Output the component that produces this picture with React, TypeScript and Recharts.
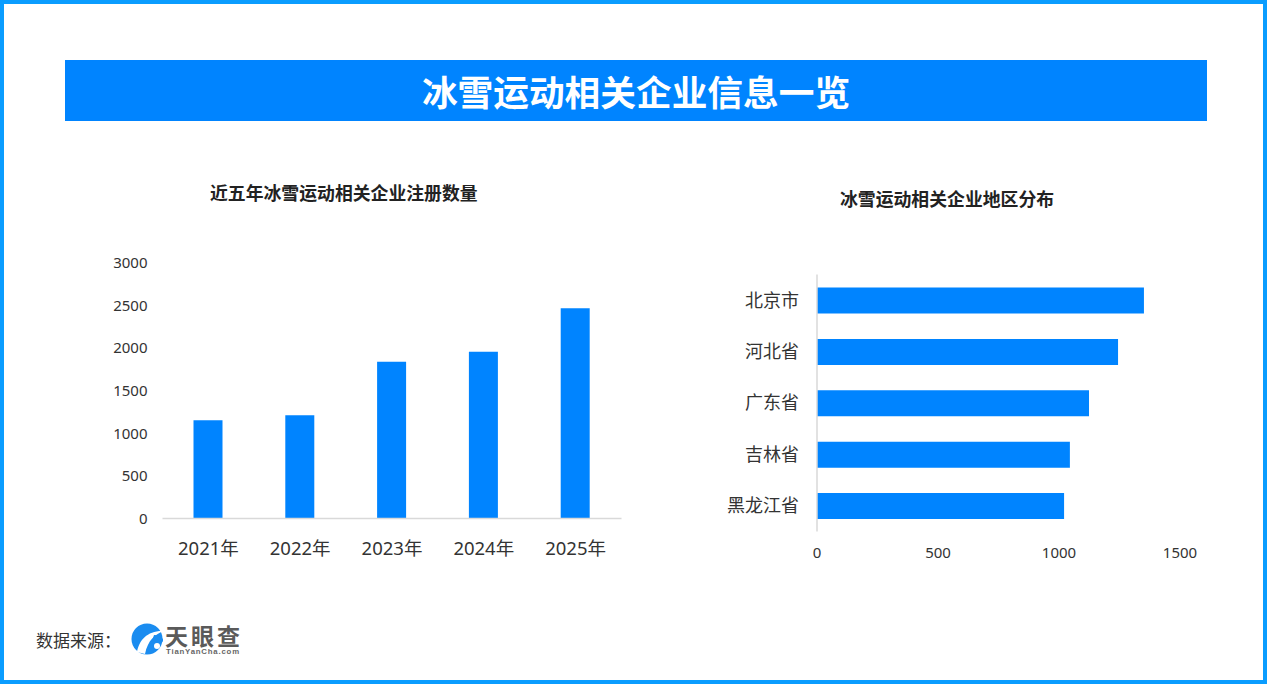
import React from "react";
import { BarChart, Bar, XAxis, YAxis } from "recharts";

const FONT = '"Noto Sans", "Noto Sans CJK SC", sans-serif';
const CJK = '"Noto Sans CJK SC", "Noto Sans", sans-serif';
const BLUE = "#0084ff";

const years = ["2021年", "2022年", "2023年", "2024年", "2025年"];
const yearCounts = [1155, 1212, 1840, 1958, 2470];
const regions = ["北京市", "河北省", "广东省", "吉林省", "黑龙江省"];
const regionCounts = [1351, 1244, 1124, 1045, 1021];
const yTicks = [0, 500, 1000, 1500, 2000, 2500, 3000];
const xTicks = [0, 500, 1000, 1500];

const yearData = years.map((year, i) => ({ year, count: yearCounts[i] }));
const regionData = regions.map((region, i) => ({ region, count: regionCounts[i] }));

const abs = (left: number, top: number, extra: React.CSSProperties = {}): React.CSSProperties => ({
  position: "absolute",
  left,
  top,
  fontFamily: CJK,
  whiteSpace: "nowrap",
  ...extra,
});

function Logo() {
  return (
    <>
      <svg style={{ position: "absolute", left: 130, top: 621 }} width={36} height={36}>
        <circle cx={17} cy={18} r={15.5} fill="#1a8cf0" />
        <path d="M7 31 C9 19 18 9 34 10 C25 13 18 19 15 33 Z" fill="#fff" />
        <path d="M24 14 C28 14 31 16 33 18 L33 21 C29 18 26 18 22 20 Z" fill="#1a8cf0" />
        <circle cx={27} cy={25} r={3} fill="#fff" />
      </svg>
      <div
        style={{
          ...abs(165, 622),
          fontSize: 23,
          fontWeight: 700,
          color: "#5a5a5a",
          lineHeight: "26px",
          letterSpacing: 3,
        }}
      >
        天眼查
      </div>
      <div
        style={{
          position: "absolute",
          left: 166,
          top: 648,
          fontFamily: '"Liberation Sans", sans-serif',
          fontSize: 7.8,
          fontWeight: 700,
          color: "#666",
          lineHeight: "8px",
          letterSpacing: 0.8,
          whiteSpace: "nowrap",
        }}
      >
        TianYanCha.com
      </div>
    </>
  );
}

export default function App() {
  const tickStyle = { fill: "#333", fontSize: 15, fontFamily: FONT };
  const catStyle = { fill: "#333", fontSize: 18.5, fontFamily: FONT };
  return (
    <div
      style={{
        position: "absolute",
        left: 0,
        top: 0,
        width: 1267,
        height: 684,
        boxSizing: "border-box",
        border: "4px solid #0a9dff",
        background: "#fff",
        overflow: "hidden",
      }}
    >
      <div style={{ position: "absolute", left: -4, top: -4, width: 1267, height: 684 }}>
        <div
          style={{
            ...abs(65, 60),
            width: 1142,
            height: 61,
            background: BLUE,
            color: "#fff",
            fontSize: 35.7,
            fontWeight: 700,
            textAlign: "center",
            lineHeight: "61px",
          }}
        >
          冰雪运动相关企业信息一览
        </div>
        <div style={{ ...abs(210, 180), fontSize: 17.85, fontWeight: 700, color: "#222", lineHeight: "24px" }}>
          近五年冰雪运动相关企业注册数量
        </div>
        <div style={{ ...abs(840, 186), fontSize: 17.85, fontWeight: 700, color: "#222", lineHeight: "24px" }}>
          冰雪运动相关企业地区分布
        </div>

        <div style={{ position: "absolute", left: 0, top: 240 }}>
          <BarChart
            width={640}
            height={340}
            data={yearData}
            margin={{ left: 102.5, top: 23, right: 18.5, bottom: 0 }}
          >
            <XAxis
              dataKey="year"
              height={61.5}
              tick={catStyle}
              tickLine={false}
              tickMargin={17}
              axisLine={{ stroke: "#d9d9d9", strokeWidth: 1.5 }}
              interval={0}
            />
            <YAxis
              width={60}
              domain={[0, 3000]}
              ticks={yTicks}
              tick={tickStyle}
              tickLine={false}
              tickMargin={9}
              axisLine={false}
            />
            <Bar dataKey="count" fill={BLUE} barSize={29} isAnimationActive={false} />
          </BarChart>
        </div>

        <div style={{ position: "absolute", left: 660, top: 260 }}>
          <BarChart
            layout="vertical"
            width={560}
            height={310}
            data={regionData}
            margin={{ left: 97, top: 14.5, right: 40, bottom: 0 }}
          >
            <XAxis
              type="number"
              domain={[0, 1500]}
              ticks={xTicks}
              height={38.5}
              tick={tickStyle}
              tickLine={false}
              tickMargin={10}
              axisLine={false}
            />
            <YAxis
              type="category"
              dataKey="region"
              width={60}
              tick={{ ...catStyle, fontSize: 18 }}
              tickLine={false}
              tickMargin={12}
              axisLine={{ stroke: "#d9d9d9", strokeWidth: 1.5 }}
              interval={0}
            />
            <Bar dataKey="count" fill={BLUE} barSize={26} isAnimationActive={false} />
          </BarChart>
        </div>

        <div style={{ ...abs(36, 628), fontSize: 17, color: "#333", lineHeight: "24px" }}>数据来源：</div>
        <Logo />
      </div>
    </div>
  );
}
